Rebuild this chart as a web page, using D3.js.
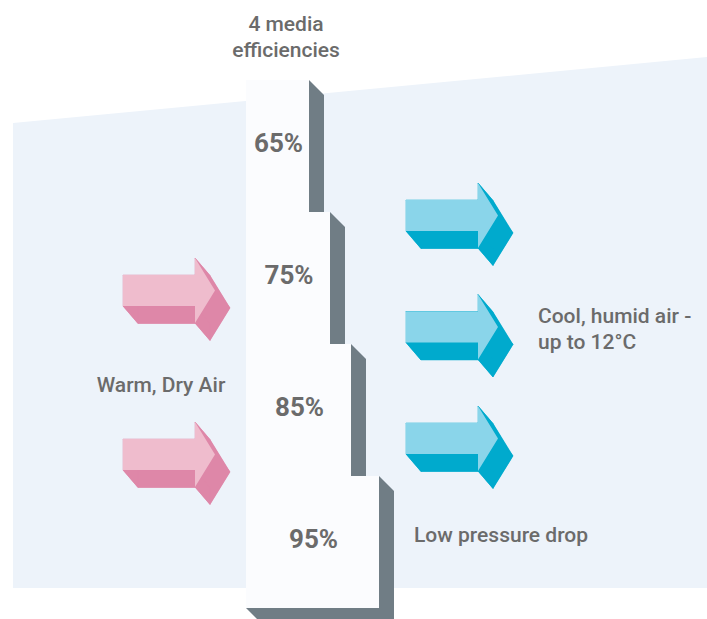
<!DOCTYPE html>
<html>
<head>
<meta charset="utf-8">
<script src="https://cdn.jsdelivr.net/npm/d3@7"></script>
<style>
  html, body { margin: 0; padding: 0; background: #ffffff; }
  svg { display: block; }
  text { font-family: Roboto, "Noto Sans", sans-serif; }
</style>
</head>
<body>
<svg id="chart" width="707" height="619"></svg>
<script>
// ---- data ----
const efficiencies = ["65%", "75%", "85%", "95%"];
const titleLines = ["4 media", "efficiencies"];
const warmArrows = [0, 1];          // pink inflow arrows
const coolArrows = [0, 1, 2];       // cyan outflow arrows
const warmLabel = ["Warm, Dry Air"];
const coolLabel = ["Cool, humid air -", "up to 12°C"];
const pressureLabel = ["Low pressure drop"];

// ---- layout ----
const W = 707, H = 619;
const svg = d3.select("#chart");

const colBg = "#edf3fa", colWhite = "#fbfcfe", colDark = "#707d85", colText = "#6b6b6b";
const pinkLight = "#efbccd", pinkDark = "#de87a8";
const cyanLight = "#8ad5ea", cyanDark = "#00aacd";

// background panel
svg.append("path")
  .attr("d", d3.line()([[13, 123], [707, 57], [707, 588], [13, 588]]) + "Z")
  .attr("fill", colBg);

// step scales
const yStep = d3.scaleBand().domain(efficiencies).range([80, 608]).padding(0);
const xRight = d3.scaleOrdinal().domain(efficiencies).range([309, 330, 351, 379]);
const x0 = 246, depth = 15;

const steps = svg.append("g").selectAll("g").data(efficiencies).join("g");
steps.append("path")
  .attr("fill", colDark)
  .attr("d", d => {
    const t = yStep(d), b = t + yStep.bandwidth(), r = xRight(d);
    return d3.line()([[x0, t], [r, t], [r + depth, t + depth], [r + depth, b + depth], [x0 + depth, b + depth], [x0, b]]) + "Z";
  });
steps.append("rect")
  .attr("x", x0)
  .attr("y", d => yStep(d))
  .attr("width", d => xRight(d) - x0)
  .attr("height", yStep.bandwidth())
  .attr("fill", colWhite);
steps.append("text")
  .attr("x", d => (x0 + xRight(d)) / 2 + 1)
  .attr("y", d => yStep(d) + 72)
  .attr("text-anchor", "middle")
  .attr("font-size", 26)
  .attr("font-weight", 700)
  .attr("fill", colText)
  .text(d => d);

// arrows
const shaftLen = 72, shaftH = 31, headExtra = 17, headLen = 20;
const off = [15, 17.5];
function arrowPts(x, y) {
  return [[x, y], [x + shaftLen, y], [x + shaftLen, y - headExtra], [x + shaftLen + headLen, y + shaftH / 2],
          [x + shaftLen, y + shaftH + headExtra], [x + shaftLen, y + shaftH], [x, y + shaftH]];
}
function drawArrow(g, x, y, light, dark) {
  const f = arrowPts(x, y);
  const b = f.map(p => [p[0] + off[0], p[1] + off[1]]);
  g.append("path").attr("d", d3.line()(b) + "Z").attr("fill", dark);
  for (let i = 0; i < f.length; i++) {
    const j = (i + 1) % f.length;
    g.append("path").attr("d", d3.line()([f[i], f[j], b[j], b[i]]) + "Z").attr("fill", dark).attr("stroke", dark).attr("stroke-width", 0.5);
  }
  g.append("path").attr("d", d3.line()(f) + "Z").attr("fill", light);
}
const yWarm = d3.scalePoint().domain(warmArrows).range([275, 439]);
const yCool = d3.scalePoint().domain(coolArrows).range([200, 423]);
warmArrows.forEach(d => drawArrow(svg.append("g"), 123, yWarm(d), pinkLight, pinkDark));
coolArrows.forEach(d => drawArrow(svg.append("g"), 406, yCool(d), cyanLight, cyanDark));

// text labels
function label(lines, x, y, anchor, lh) {
  const t = svg.append("text")
    .attr("x", x).attr("y", y)
    .attr("text-anchor", anchor)
    .attr("font-size", 21)
    .attr("font-weight", 500)
    .attr("fill", colText);
  lines.forEach((s, i) => t.append("tspan").attr("x", x).attr("dy", i === 0 ? 0 : lh).text(s));
}
label(titleLines, 286, 31, "middle", 26);
label(warmLabel, 161, 392, "middle", 26);
label(coolLabel, 538, 323, "start", 26);
label(pressureLabel, 414, 542, "start", 26);
</script>
</body>
</html>
